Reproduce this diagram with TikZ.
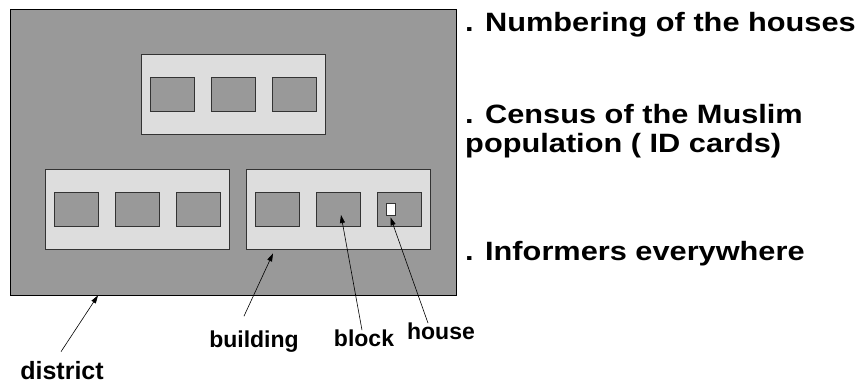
\documentclass[tikz,border=0pt]{standalone}
\usepackage{fontspec}
\setmainfont{Liberation Sans}
\usetikzlibrary{arrows.meta}
\definecolor{districtgray}{HTML}{999999}
\definecolor{buildgray}{HTML}{DDDDDD}
\begin{document}
\begin{tikzpicture}[x=1pt,y=-1pt,
    district/.style={draw=black,line width=0.8pt,fill=districtgray,minimum width=446pt,minimum height=286pt,inner sep=0pt},
    building/.style={draw=black!80,line width=0.8pt,fill=buildgray,minimum width=184pt,minimum height=80pt,inner sep=0pt},
    block/.style={draw=black!80,line width=0.8pt,fill=districtgray,minimum width=44pt,minimum height=34pt,inner sep=0pt},
    house/.style={draw=black!80,line width=0.6pt,fill=white,minimum width=9pt,minimum height=12pt,inner sep=0pt},
    lbl/.style={font=\bfseries\fontsize{23}{27}\selectfont,inner sep=1pt,anchor=base},
    note/.style={font=\bfseries\fontsize{26.5}{29}\selectfont,inner sep=0pt,anchor=base west,align=left,xscale=1.16},
    pointer/.style={line width=0.6pt,-{Triangle[length=8pt,width=5pt]}}]
    \useasboundingbox (0,0) rectangle (862,383);

    %Shape: district
    \node[district] (district) at (233,152) {};
    %Shape: buildings
    \node[building] (bldA) at (233,94.5) {};
    \node[building] (bldB) at (137,209) {};
    \node[building] (bldC) at (338,209) {};
    %Shape: blocks, three per building
    \foreach \b in {A,B,C}
        \foreach \i/\dx in {1/-61,2/0,3/61}
            \node[block] (blk\b\i) at ([xshift=\dx pt]bld\b.center) {};
    %Shape: house
    \node[house] (house) at ([xshift=-8.5pt]blkC3.center) {};

    % Text Node
    \node[lbl,font=\bfseries\fontsize{25}{29}\selectfont] (ldistrict) at (62,379) {district};
    % Text Node
    \node[lbl] (lbuilding) at (254,347) {building};
    % Text Node
    \node[lbl] (lblock) at (364,346) {block};
    % Text Node
    \node[lbl] (lhouse) at (441,339) {house};

    % Text Node
    \node[note] (numbering) at (465,31) {. Numbering of the houses};
    % Text Node
    \node[note] (census) at (465,152) {. Census of the Muslim\\population ( ID cards)};
    % Text Node
    \node[note] (informers) at (465,260) {. Informers everywhere};

    %Straight Lines
    \draw[pointer] ([xshift=-1pt,yshift=8pt]ldistrict.north) -- ([xshift=-135pt]district.south);
    \draw[pointer] ([xshift=-10pt,yshift=13pt]lbuilding.north) -- ([xshift=-65pt,yshift=-4pt]bldC.south);
    \draw[pointer] ([xshift=-2pt,yshift=-2pt]lblock.north) -- ([xshift=3pt,yshift=-6pt]blkC2.center);
    \draw[pointer] ([xshift=-13pt,yshift=-2pt]lhouse.north) -- ([yshift=-2pt]house.south);

\end{tikzpicture}
\end{document}
